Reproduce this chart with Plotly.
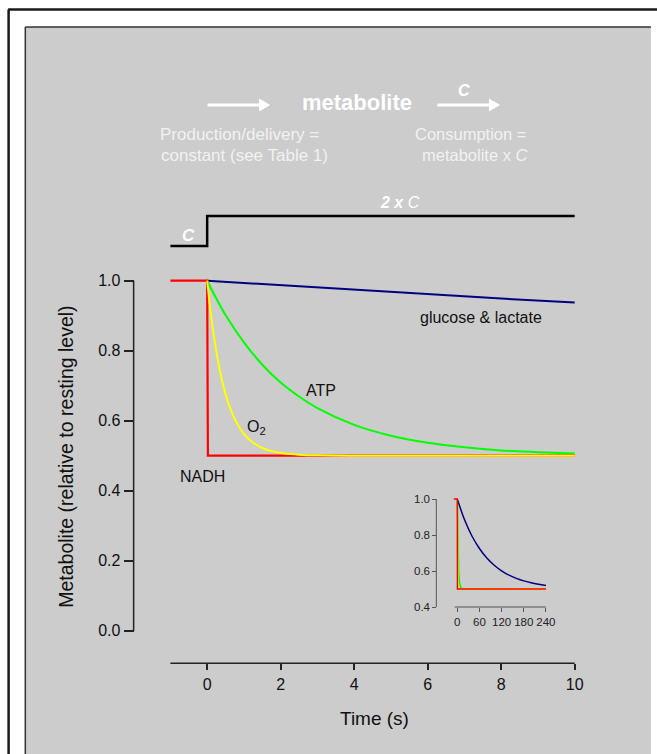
import plotly.graph_objects as go

W, H = 657, 754
XS = 649.0  # effective horizontal pixel scale observed for the rendered page
FONT = "Arial, 'Liberation Sans', sans-serif"

# ---------------- data ----------------
nadh_t = [-1, 0, 0.02, 10]
nadh_v = [1.0, 1.0, 0.5, 0.5]

o2_t = [0, 0.05, 0.1, 0.15, 0.2, 0.3, 0.4, 0.5, 0.6, 0.75, 0.9, 1.0, 1.25, 1.5, 1.75, 2.0, 2.5, 3.0, 4.0, 10]
o2_v = [1.0, 0.951, 0.906, 0.866, 0.830, 0.768, 0.717, 0.676, 0.643, 0.605, 0.577, 0.562, 0.537, 0.522, 0.513, 0.508, 0.503, 0.501, 0.500, 0.500]

atp_t = [0, 0.25, 0.5, 1, 1.5, 2, 2.5, 3, 4, 5, 6, 7, 8, 9, 10]
atp_v = [1.0, 0.949, 0.902, 0.824, 0.760, 0.709, 0.669, 0.636, 0.588, 0.557, 0.537, 0.524, 0.515, 0.510, 0.506]

glc_t = [0, 2, 4, 6, 8, 10]
glc_v = [1.0, 0.987, 0.974, 0.962, 0.949, 0.938]

# inset (time in s, 0-240)
in_nadh_t = [-10, 0, 0.5, 240]
in_nadh_v = [1.0, 1.0, 0.5, 0.5]
in_o2_t = [0, 0.5, 1, 2, 3, 240]
in_o2_v = [1.0, 0.676, 0.562, 0.508, 0.501, 0.5]
in_atp_t = [0, 2, 4, 6, 8, 10, 15, 240]
in_atp_v = [1.0, 0.709, 0.588, 0.537, 0.515, 0.506, 0.501, 0.5]
in_glc_t = [0, 20, 40, 60, 80, 100, 120, 140, 160, 180, 200, 220, 240]
in_glc_v = [1.0, 0.883, 0.793, 0.725, 0.672, 0.632, 0.601, 0.577, 0.559, 0.545, 0.535, 0.527, 0.520]

x_ticks = [0, 2, 4, 6, 8, 10]
y_ticks = [0.0, 0.2, 0.4, 0.6, 0.8, 1.0]
y_ticklabels = ["0.0", "0.2", "0.4", "0.6", "0.8", "1.0"]
in_x_ticks = [0, 60, 120, 180, 240]
in_y_ticks = [0.4, 0.6, 0.8, 1.0]
in_y_ticklabels = ["0.4", "0.6", "0.8", "1.0"]

step_t = [-1, 0, 0, 10]

C_NADH, C_O2, C_ATP, C_GLC = "#ff0000", "#ffff00", "#00ff00", "#000080"


def px(x):
    return x / XS


def py(y):
    return 1 - y / H


fig = go.Figure()

# main traces
fig.add_trace(go.Scatter(x=glc_t, y=glc_v, mode="lines", line=dict(color=C_GLC, width=2), xaxis="x", yaxis="y"))
fig.add_trace(go.Scatter(x=atp_t, y=atp_v, mode="lines", line=dict(color=C_ATP, width=2, shape="spline"), xaxis="x", yaxis="y"))
fig.add_trace(go.Scatter(x=nadh_t, y=nadh_v, mode="lines", line=dict(color=C_NADH, width=2.2), xaxis="x", yaxis="y"))
fig.add_trace(go.Scatter(x=o2_t, y=o2_v, mode="lines", line=dict(color=C_O2, width=2, shape="spline"), xaxis="x", yaxis="y"))

# inset traces
fig.add_trace(go.Scatter(x=in_glc_t, y=in_glc_v, mode="lines", line=dict(color=C_GLC, width=1.5, shape="spline"), xaxis="x2", yaxis="y2"))
fig.add_trace(go.Scatter(x=in_atp_t, y=in_atp_v, mode="lines", line=dict(color=C_ATP, width=1.5), xaxis="x2", yaxis="y2"))
fig.add_trace(go.Scatter(x=in_o2_t, y=in_o2_v, mode="lines", line=dict(color=C_O2, width=1.5), xaxis="x2", yaxis="y2"))
fig.add_trace(go.Scatter(x=in_nadh_t, y=in_nadh_v, mode="lines", line=dict(color=C_NADH, width=1.5), xaxis="x2", yaxis="y2"))

AX = "#222222"
IAX = "#555555"
WH = "#ffffff"


def arrow(x0, x1, y):
    """white arrow (shaft + head) in pixel coordinates"""
    head = 11
    hh = 6.5
    return [
        dict(type="line", xref="paper", yref="paper", x0=px(x0), x1=px(x1 - head + 1), y0=py(y), y1=py(y),
             line=dict(color=WH, width=3)),
        dict(type="path", xref="paper", yref="paper",
             path=f"M {px(x1 - head)},{py(y - hh)} L {px(x1)},{py(y)} L {px(x1 - head)},{py(y + hh)} Z",
             fillcolor=WH, line=dict(color=WH, width=0)),
    ]


shapes = [
    # gray panel
    dict(type="rect", xref="paper", yref="paper", x0=px(25), x1=px(643), y0=py(760), y1=py(27),
         fillcolor="#cccccc", line=dict(width=0), layer="below"),
    dict(type="line", xref="paper", yref="paper", x0=px(25), x1=px(643), y0=py(27), y1=py(27),
         line=dict(color="#333333", width=1.5), layer="below"),
    dict(type="line", xref="paper", yref="paper", x0=px(25), x1=px(25), y0=py(27), y1=py(760),
         line=dict(color="#333333", width=1.5), layer="below"),
    # outer border
    dict(type="line", xref="paper", yref="paper", x0=px(8), x1=1.0, y0=py(9.5), y1=py(9.5),
         line=dict(color="#1a1a1a", width=2.5)),
    dict(type="line", xref="paper", yref="paper", x0=px(8.5), x1=px(8.5), y0=py(9.5), y1=py(760),
         line=dict(color="#1a1a1a", width=2.5)),
    # main spines
    dict(type="line", xref="paper", yref="y", x0=px(132), x1=px(132), y0=0, y1=1,
         line=dict(color=AX, width=1.5)),
    dict(type="line", xref="x", yref="paper", x0=-1, x1=10, y0=py(663.3), y1=py(663.3),
         line=dict(color=AX, width=1.5)),
    # inset spines
    dict(type="line", xref="paper", yref="y2", x0=px(431), x1=px(431), y0=0.4, y1=1.0,
         line=dict(color=IAX, width=1)),
    dict(type="line", xref="x2", yref="paper", x0=-7, x1=240, y0=py(607), y1=py(607),
         line=dict(color=IAX, width=1)),
    # step stimulus line
    dict(type="path", xref="x", yref="paper",
         path=f"M {step_t[0]},{py(246)} L {step_t[1]},{py(246)} L {step_t[2]},{py(216)} L {step_t[3]},{py(216)}",
         line=dict(color="#000000", width=2.5)),
]
shapes += arrow(205, 267, 105)
shapes += arrow(432, 494, 105)

LT = "#f2f2f2"
annotations = [
    # top schematic
    dict(x=px(353), y=py(103), text="<b>metabolite</b>", font=dict(size=22, color=WH)),
    dict(x=px(458), y=py(90), text="<b><i>C</i></b>", font=dict(size=16, color=WH)),
    dict(x=px(237), y=py(134), text="Production/delivery =", font=dict(size=17, color=LT)),
    dict(x=px(242), y=py(155), text="constant (see Table 1)", font=dict(size=17, color=LT)),
    dict(x=px(465), y=py(134), text="Consumption =", font=dict(size=16.5, color=LT)),
    dict(x=px(469), y=py(155), text="metabolite x <i>C</i>", font=dict(size=16.5, color=LT)),
    dict(x=px(395), y=py(203), text="<b><i>2 x</i></b> <i>C</i>", font=dict(size=16, color=WH)),
    dict(x=px(186), y=py(235), text="<b><i>C</i></b>", font=dict(size=17, color=WH)),
    # curve labels
    dict(x=7.45, y=0.895, xref="x", yref="y", text="glucose & lactate", font=dict(size=16, color="#111111")),
    dict(x=3.09, y=0.687, xref="x", yref="y", text="ATP", font=dict(size=16, color="#111111")),
    dict(x=1.35, y=0.58, xref="x", yref="y", text="O<sub>2</sub>", font=dict(size=16, color="#111111")),
    dict(x=-0.13, y=0.44, xref="x", yref="y", text="NADH", font=dict(size=16, color="#111111")),
    # axis titles
    dict(x=px(65), y=py(457), text="Metabolite (relative to resting level)", textangle=-90,
         font=dict(size=19.5, color="#111111")),
    dict(x=px(370), y=py(718), text="Time (s)", font=dict(size=19, color="#111111")),
]
for a in annotations:
    a.setdefault("xref", "paper")
    a.setdefault("yref", "paper")
    a.setdefault("showarrow", False)
    a.setdefault("xanchor", "center")
    a.setdefault("yanchor", "middle")

fig.update_layout(
    width=W, height=H,
    autosize=False,
    margin=dict(l=0, r=0, t=0, b=0),
    paper_bgcolor="#ffffff",
    plot_bgcolor="rgba(0,0,0,0)",
    showlegend=False,
    font=dict(family=FONT, color="#111111"),
    xaxis=dict(domain=[px(164.7), px(571.3)], range=[-1.1, 10.1], anchor="free", position=py(663.3),
               tickvals=x_ticks, ticks="outside", ticklen=6, tickwidth=1.5, tickcolor=AX, tickangle=0,
               automargin=False,
               showline=False, showgrid=False, zeroline=False, tickfont=dict(size=16, color="#111111")),
    yaxis=dict(domain=[py(665.7), py(245.7)], range=[-0.1, 1.1], anchor="free", position=px(132),
               tickvals=y_ticks, ticktext=y_ticklabels, ticks="outside", ticklen=10, tickwidth=1.5,
               tickcolor=AX, showline=False, showgrid=False, zeroline=False, automargin=False,
               tickfont=dict(size=16, color="#111111")),
    xaxis2=dict(domain=[px(448.05), px(541.1)], range=[-10, 245], anchor="free", position=py(607),
                tickvals=in_x_ticks, ticks="outside", ticklen=4, tickwidth=1, tickcolor=IAX, tickangle=0,
                automargin=False,
                showline=False, showgrid=False, zeroline=False, tickfont=dict(size=11.5, color="#222222")),
    yaxis2=dict(domain=[py(612.4), py(493.6)], range=[0.37, 1.03], anchor="free", position=px(431),
                tickvals=in_y_ticks, ticktext=in_y_ticklabels, ticks="outside", ticklen=4, tickwidth=1,
                tickcolor=IAX, showline=False, showgrid=False, zeroline=False, automargin=False,
                tickfont=dict(size=11.5, color="#222222")),
    shapes=shapes,
    annotations=annotations,
)

fig.write_html(
    "out.html",
    config={"responsive": False, "displayModeBar": False},
    post_script=(
        "document.body.style.margin='0';document.body.style.padding='0';"
        "document.body.style.overflow='hidden';document.documentElement.style.overflow='hidden';"
    ),
)
